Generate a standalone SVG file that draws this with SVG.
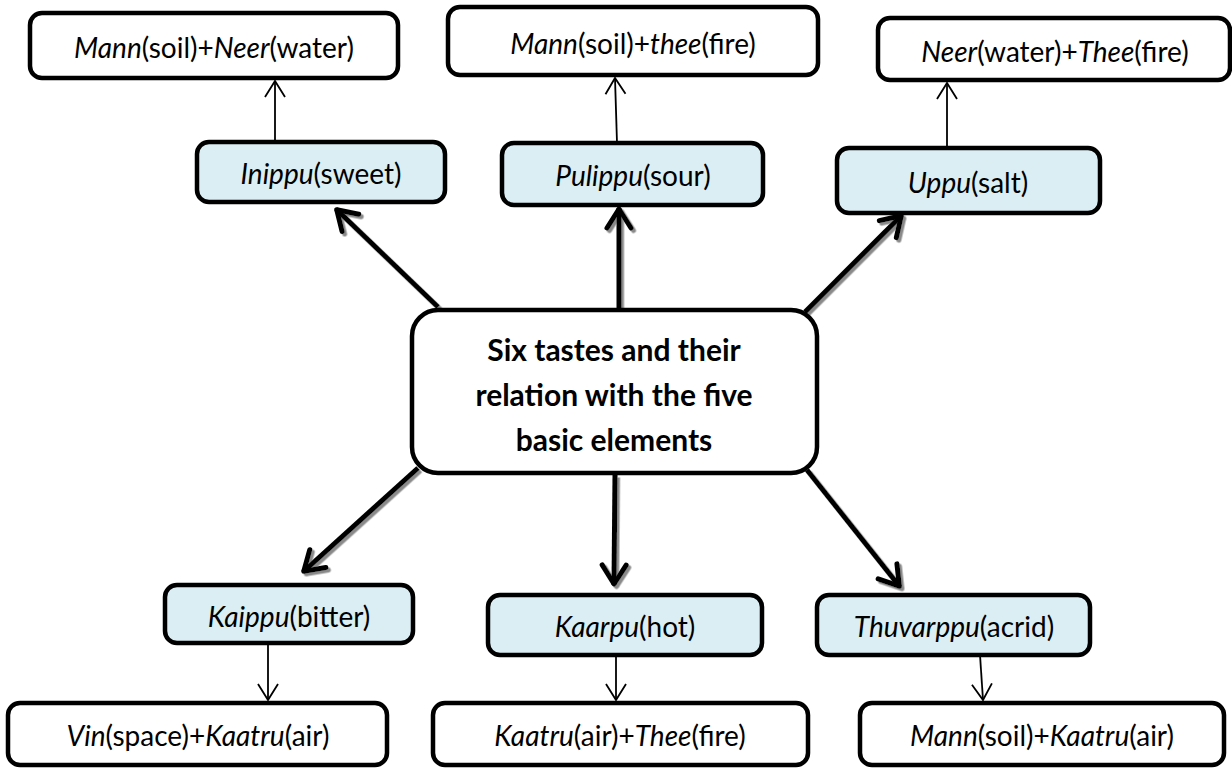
<svg xmlns="http://www.w3.org/2000/svg" width="1232" height="770" viewBox="0 0 1232 770">
<style>
  .box { fill: #ffffff; stroke: #000; stroke-width: 4.5; }
  .taste { fill: #DAEEF3; stroke: #000; stroke-width: 4.5; }
  .lbl { font-family: Lato, "Liberation Sans", sans-serif; font-size: 28px; fill: #000; text-anchor: middle; }
  .title { font-family: Lato, "Liberation Sans", sans-serif; font-size: 30px; font-weight: bold; fill: #000; text-anchor: middle; }
  .it { font-style: italic; }
  .thin { stroke: #000; stroke-width: 1.8; fill: none; marker-end: url(#thinHead); }
  .thick { stroke: #000; stroke-width: 5; fill: none; marker-end: url(#thickHead); }
</style>
<defs>
  <marker id="thinHead" markerUnits="userSpaceOnUse" viewBox="-20 -14 24 28" refX="0" refY="0" markerWidth="24" markerHeight="28" orient="auto" overflow="visible">
    <path d="M-16,-10 L0,0 L-16,10" fill="none" stroke="#000" stroke-width="1.8" stroke-linejoin="miter"/>
  </marker>
  <marker id="thickHead" markerUnits="userSpaceOnUse" viewBox="-26 -16 30 32" refX="0" refY="0" markerWidth="30" markerHeight="32" orient="auto" overflow="visible">
    <path d="M-20,-12 L-1,0 L-20,12" fill="none" stroke="#000" stroke-width="5" stroke-linejoin="round" stroke-linecap="round"/>
  </marker>
  <filter id="shadow" x="-20%" y="-20%" width="140%" height="140%">
    <feDropShadow dx="2.5" dy="2.5" stdDeviation="0.6" flood-color="#8a8a8a" flood-opacity="1"/>
  </filter>
</defs>
<rect width="1232" height="770" fill="#fff"/>

<g id="connectors">
  <g id="thick-arrows" filter="url(#shadow)">
    <line class="thick" x1="438" y1="307" x2="336" y2="209"/>
    <line class="thick" x1="619" y1="308" x2="619" y2="208"/>
    <line class="thick" x1="805" y1="312" x2="902" y2="215"/>
    <line class="thick" x1="418" y1="468" x2="303" y2="572"/>
    <line class="thick" x1="615" y1="475" x2="614" y2="585"/>
    <line class="thick" x1="807" y1="470" x2="900" y2="587"/>
  </g>
  <g id="thin-arrows">
    <line class="thin" x1="275" y1="142" x2="275" y2="81"/>
    <line class="thin" x1="617" y1="143" x2="615" y2="78"/>
    <line class="thin" x1="947" y1="148" x2="947" y2="83"/>
    <line class="thin" x1="268" y1="643" x2="268" y2="700"/>
    <line class="thin" x1="616" y1="655" x2="616" y2="700"/>
    <line class="thin" x1="980" y1="655" x2="983" y2="700"/>
  </g>
</g>

<g id="center">
  <rect class="box" x="412" y="310" width="405" height="163" rx="26"/>
  <text class="title" x="614" y="361">Six tastes and their</text>
  <text class="title" x="614" y="406">relation with the five</text>
  <text class="title" x="614" y="451">basic elements</text>
</g>

<g id="elem-mann-neer">
  <rect class="box" x="30" y="13" width="368" height="65" rx="12"/>
  <text class="lbl" x="214" y="58"><tspan class="it">Mann</tspan>(soil)+<tspan class="it">Neer</tspan>(water)</text>
</g>
<g id="elem-mann-thee">
  <rect class="box" x="448" y="7" width="370" height="68" rx="12"/>
  <text class="lbl" x="633" y="54"><tspan class="it">Mann</tspan>(soil)+<tspan class="it">thee</tspan>(fire)</text>
</g>
<g id="elem-neer-thee">
  <rect class="box" x="878" y="18" width="352" height="62" rx="12"/>
  <text class="lbl" x="1055" y="62"><tspan class="it">Neer</tspan>(water)+<tspan class="it">Thee</tspan>(fire)</text>
</g>

<g id="taste-inippu">
  <rect class="taste" x="197" y="142" width="248" height="60" rx="12"/>
  <text class="lbl" x="321" y="184"><tspan class="it">Inippu</tspan>(sweet)</text>
</g>
<g id="taste-pulippu">
  <rect class="taste" x="502" y="143" width="261" height="62" rx="12"/>
  <text class="lbl" x="633" y="186"><tspan class="it">Pulippu</tspan>(sour)</text>
</g>
<g id="taste-uppu">
  <rect class="taste" x="837" y="148" width="263" height="65" rx="12"/>
  <text class="lbl" x="968" y="193"><tspan class="it">Uppu</tspan>(salt)</text>
</g>

<g id="taste-kaippu">
  <rect class="taste" x="165" y="585" width="248" height="58" rx="12"/>
  <text class="lbl" x="289" y="627"><tspan class="it">Kaippu</tspan>(bitter)</text>
</g>
<g id="taste-kaarpu">
  <rect class="taste" x="488" y="595" width="274" height="60" rx="12"/>
  <text class="lbl" x="625" y="637"><tspan class="it">Kaarpu</tspan>(hot)</text>
</g>
<g id="taste-thuvarppu">
  <rect class="taste" x="817" y="595" width="273" height="60" rx="12"/>
  <text class="lbl" x="954" y="637"><tspan class="it">Thuvarppu</tspan>(acrid)</text>
</g>

<g id="elem-vin-kaatru">
  <rect class="box" x="8" y="703" width="379" height="62" rx="12"/>
  <text class="lbl" x="198" y="746"><tspan class="it">Vin</tspan>(space)+<tspan class="it">Kaatru</tspan>(air)</text>
</g>
<g id="elem-kaatru-thee">
  <rect class="box" x="433" y="703" width="375" height="62" rx="12"/>
  <text class="lbl" x="620" y="746"><tspan class="it">Kaatru</tspan>(air)+<tspan class="it">Thee</tspan>(fire)</text>
</g>
<g id="elem-mann-kaatru">
  <rect class="box" x="860" y="703" width="364" height="62" rx="12"/>
  <text class="lbl" x="1042" y="746"><tspan class="it">Mann</tspan>(soil)+<tspan class="it">Kaatru</tspan>(air)</text>
</g>
</svg>
